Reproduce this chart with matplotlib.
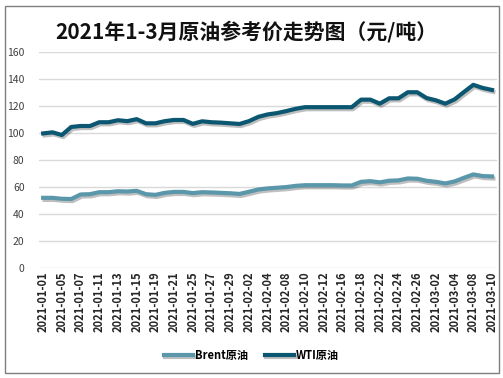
import matplotlib
matplotlib.use("Agg")
import matplotlib.pyplot as plt
import matplotlib.patheffects as pe
from matplotlib.patches import Rectangle

plt.rcParams['font.family'] = ['Noto Sans CJK SC', 'DejaVu Sans']

# trading days, Jan 1 - Mar 10 2021
dates = [
    "2021-01-01", "2021-01-04", "2021-01-05", "2021-01-06", "2021-01-07", "2021-01-08",
    "2021-01-11", "2021-01-12", "2021-01-13", "2021-01-14", "2021-01-15",
    "2021-01-18", "2021-01-19", "2021-01-20", "2021-01-21", "2021-01-22",
    "2021-01-25", "2021-01-26", "2021-01-27", "2021-01-28", "2021-01-29",
    "2021-02-01", "2021-02-02", "2021-02-03", "2021-02-04", "2021-02-05",
    "2021-02-08", "2021-02-09", "2021-02-10", "2021-02-11", "2021-02-12",
    "2021-02-15", "2021-02-16", "2021-02-17", "2021-02-18", "2021-02-19",
    "2021-02-22", "2021-02-23", "2021-02-24", "2021-02-25", "2021-02-26",
    "2021-03-01", "2021-03-02", "2021-03-03", "2021-03-04", "2021-03-05",
    "2021-03-08", "2021-03-09", "2021-03-10",
]

brent = [51.8, 51.8, 51.1, 50.9, 54.3, 54.5, 56.0, 56.0, 56.7, 56.5,
         57.0, 54.5, 54.0, 55.5, 56.2, 56.2, 55.3, 56.0, 55.8, 55.5,
         55.2, 54.7, 56.3, 58.0, 58.8, 59.3, 59.8, 60.7, 61.2, 61.2,
         61.2, 61.2, 61.0, 61.0, 63.7, 64.2, 63.3, 64.5, 64.8, 66.2,
         66.0, 64.5, 63.7, 62.5, 64.0, 66.7, 69.2, 68.0, 67.7]

wti = [99.7, 100.5, 98.5, 104.5, 105.2, 105.2, 108.0, 108.0, 109.5, 108.8,
       110.3, 107.2, 107.2, 108.8, 109.7, 109.7, 106.8, 108.7, 108.0, 107.7,
       107.2, 106.7, 108.8, 112.0, 113.8, 114.8, 116.3, 118.0, 119.2, 119.2,
       119.2, 119.2, 119.2, 119.2, 124.8, 124.8, 121.8, 125.8, 125.8, 130.3,
       130.3, 126.0, 124.3, 121.8, 125.0, 130.5, 135.8, 133.5, 132.0]

W, H = 503, 378
fig = plt.figure(figsize=(W / 100, H / 100), dpi=100)
ax = fig.add_axes([38.5 / W, (H - 267.5) / H, (496.7 - 38.5) / W, (267.5 - 52.3) / H])

x = list(range(len(dates)))
shadow = [pe.SimpleLineShadow(offset=(1, -1.5), shadow_color='black', alpha=0.25), pe.Normal()]
ax.plot(x, brent, color='#5b97aa', lw=3, label='Brent原油', path_effects=shadow, solid_joinstyle='round')
ax.plot(x, wti, color='#0b5670', lw=3, label='WTI原油', path_effects=shadow, solid_joinstyle='round')

ax.set_xlim(-0.5, len(dates) - 0.5)
ax.set_ylim(0, 160)
ax.set_yticks(range(0, 161, 20))
ax.set_xticks(x[::2])
ax.set_xticklabels(dates[::2], rotation=90, fontsize=8, fontweight='bold', color='#262626')
ax.tick_params(axis='y', labelsize=7.5, colors='#404040', length=0, pad=10)
ax.tick_params(axis='x', length=0, pad=3)
ax.grid(axis='y', color='#d9d9d9', lw=1)
ax.set_axisbelow(True)
for s in ax.spines.values():
    s.set_visible(False)

fig.text(0.49, (H - 32) / H, '2021年1-3月原油参考价走势图（元/吨）', ha='center', va='center',
         fontsize=15, fontweight='bold', color='#111111')

fig.legend(loc='center', bbox_to_anchor=(0.5, (H - 355) / H), ncol=2, frameon=False,
           handlelength=2.6, columnspacing=1.5, handletextpad=0.2,
           prop={'weight': 'bold', 'size': 8})

fig.patches.append(Rectangle((5 / W, 5 / H), 494 / W, 367 / H, transform=fig.transFigure,
                             fill=False, edgecolor='#7f7f7f', lw=1))

fig.savefig('out.png', dpi=100)
